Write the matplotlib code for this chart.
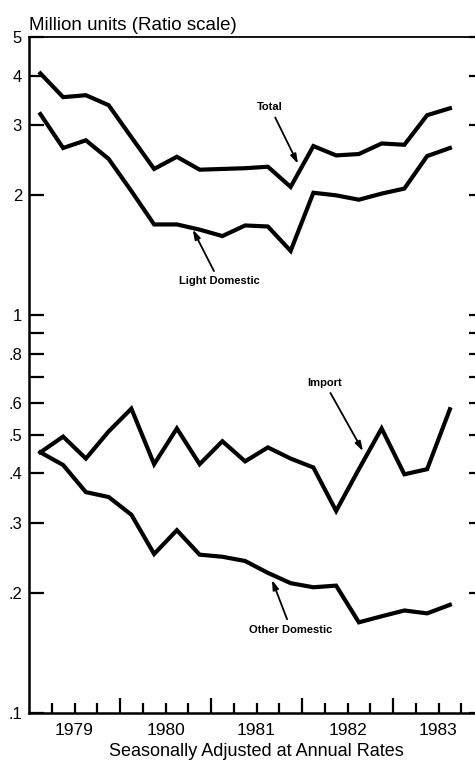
import numpy as np
import matplotlib.pyplot as plt
from matplotlib.ticker import NullLocator

plt.rcParams['font.family'] = ['Liberation Sans', 'DejaVu Sans']

# quarterly data, 1979 Q1 .. 1983 Q3, plotted at mid-quarter
quarters = 1979 + (np.arange(19) + 0.5) / 4

total = [4.05, 3.53, 3.57, 3.37, 2.80, 2.33, 2.50, 2.32, 2.33, 2.34,
         2.36, 2.10, 2.66, 2.52, 2.54, 2.70, 2.68, 3.18, 3.31]
light_domestic = [3.20, 2.63, 2.75, 2.47, 2.05, 1.69, 1.69, 1.64, 1.58, 1.68,
                  1.67, 1.45, 2.03, 2.00, 1.95, 2.02, 2.08, 2.51, 2.63]
imports = [0.452, 0.495, 0.436, 0.510, 0.582, 0.422, 0.519, 0.422, 0.482, 0.429,
           0.465, 0.436, 0.414, 0.322, 0.410, 0.519, 0.398, 0.410, 0.580]
other_domestic = [0.452, 0.420, 0.359, 0.349, 0.315, 0.251, 0.288, 0.250, 0.247, 0.241,
                  0.225, 0.212, 0.207, 0.209, 0.169, 0.175, 0.181, 0.178, 0.187]

year_labels = ['1979', '1980', '1981', '1982', '1983']
ytick_vals = [0.1, 0.2, 0.3, 0.4, 0.5, 0.6, 0.7, 0.8, 0.9, 1, 2, 3, 4, 5]
ytick_labels = ['.1', '.2', '.3', '.4', '.5', '.6', '', '.8', '', '1', '2', '3', '4', '5']

fig = plt.figure(figsize=(4.75, 7.63), dpi=100)
ax = fig.add_axes([29 / 475, 50 / 763, 455 / 475, 676 / 763])

for series in (total, light_domestic, imports, other_domestic):
    ax.plot(quarters, series, color='black', lw=3, solid_joinstyle='miter')

ax.set_yscale('log')
ax.set_ylim(0.1, 5)
ax.set_xlim(1979, 1984)
ax.set_yticks(ytick_vals, ytick_labels)
ax.yaxis.set_minor_locator(NullLocator())
ax.tick_params(axis='y', which='major', direction='in', length=11, width=1.6,
               right=True, labelsize=12, pad=5)

ax.set_xticks([1980, 1981, 1982, 1983])
ax.set_xticks(np.arange(1979.25, 1984, 0.25), minor=True)
ax.tick_params(axis='x', which='major', direction='in', length=10.5, width=1.6,
               labelbottom=False)
ax.tick_params(axis='x', which='minor', direction='in', length=7, width=1.6)

for side, w in (('left', 1.8), ('bottom', 1.8), ('top', 1.3), ('right', 1.3)):
    ax.spines[side].set_linewidth(w)

sec = ax.secondary_xaxis('bottom')
sec.set_xticks(np.arange(1979.5, 1984, 1.0), year_labels)
sec.tick_params(length=0, labelsize=12.5, pad=7)
sec.spines['bottom'].set_visible(False)
sec.set_xlabel('Seasonally Adjusted at Annual Rates', fontsize=13, labelpad=4)

fig.text(29 / 475, 1 - 25 / 763, 'Million units (Ratio scale)', fontsize=13.5,
         ha='left', va='center')

note_font = dict(fontsize=8, fontweight='bold')
arrow = dict(arrowstyle='-|>,head_length=0.7,head_width=0.22', lw=1.3,
             color='black', shrinkA=2, shrinkB=0)
ax.annotate('Total', xy=(1981.956, 2.40), xytext=(1981.65, 3.33),
            ha='center', va='center', arrowprops=arrow, **note_font)
ax.annotate('Light Domestic', xy=(1980.80, 1.64), xytext=(1981.09, 1.216),
            ha='center', va='center', arrowprops=arrow, **note_font)
ax.annotate('Import', xy=(1982.67, 0.455), xytext=(1982.25, 0.676),
            ha='center', va='center', arrowprops=arrow, **note_font)
ax.annotate('Other Domestic', xy=(1981.67, 0.216), xytext=(1981.88, 0.162),
            ha='center', va='center', arrowprops=arrow, **note_font)

fig.savefig('out.png', dpi=100)
